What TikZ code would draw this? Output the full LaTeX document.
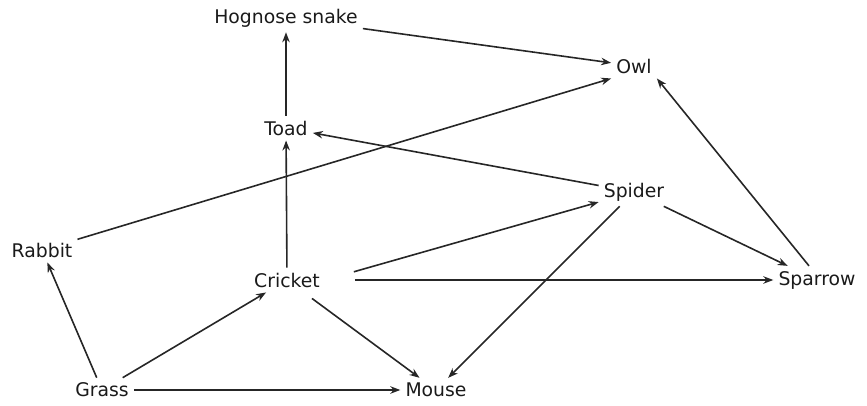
\documentclass[tikz,border=0pt]{standalone}
\usepackage{fontspec}
\setmainfont{DejaVu Sans}
\usetikzlibrary{arrows.meta}
\definecolor{txt}{HTML}{1A1A1A}
\tikzset{
  animal/.style={inner sep=5pt, text=txt, font=\fontsize{18.8}{22}\selectfont},
  feeds/.style={-{Stealth[length=10pt,width=7.5pt]}, line width=1.6pt, draw=black!85}
}
\begin{document}
\begin{tikzpicture}[x=1pt,y=-1pt]
\useasboundingbox (0,0) rectangle (867,406);
\node[animal] (snake) at (286,18) {Hognose snake};
\node[animal] (owl) at (634,66) {Owl};
\node[animal] (toad) at (286,128) {Toad};
\node[animal] (spider) at (634,192) {Spider};
\node[animal] (rabbit) at (42,250) {Rabbit};
\node[animal] (cricket) at (287,280) {Cricket};
\node[animal] (sparrow) at (817,280) {Sparrow};
\node[animal] (grass) at (102,390) {Grass};
\node[animal] (mouse) at (436,390) {Mouse};
\draw[feeds] (snake) -- (owl);
\draw[feeds] (toad) -- (snake);
\draw[feeds] (cricket) -- (toad);
\draw[feeds] (rabbit) -- (owl.south west);
\draw[feeds] (spider) -- (toad);
\draw[feeds] (sparrow.north) ++(-8,0) coordinate (spn) (spn) -- (owl.south east);
\draw[feeds] (spider) -- (sparrow);
\draw[feeds, shorten <=30pt] (cricket.east) -- (spider);
\draw[feeds, shorten <=30pt] (cricket.east) -- (sparrow);
\draw[feeds] (spider) -- (mouse);
\draw[feeds, shorten <=10pt] (cricket) -- (mouse);
\draw[feeds] (grass) -- (cricket);
\draw[feeds] (grass) -- (rabbit);
\draw[feeds] (grass) -- (mouse);
\end{tikzpicture}
\end{document}
